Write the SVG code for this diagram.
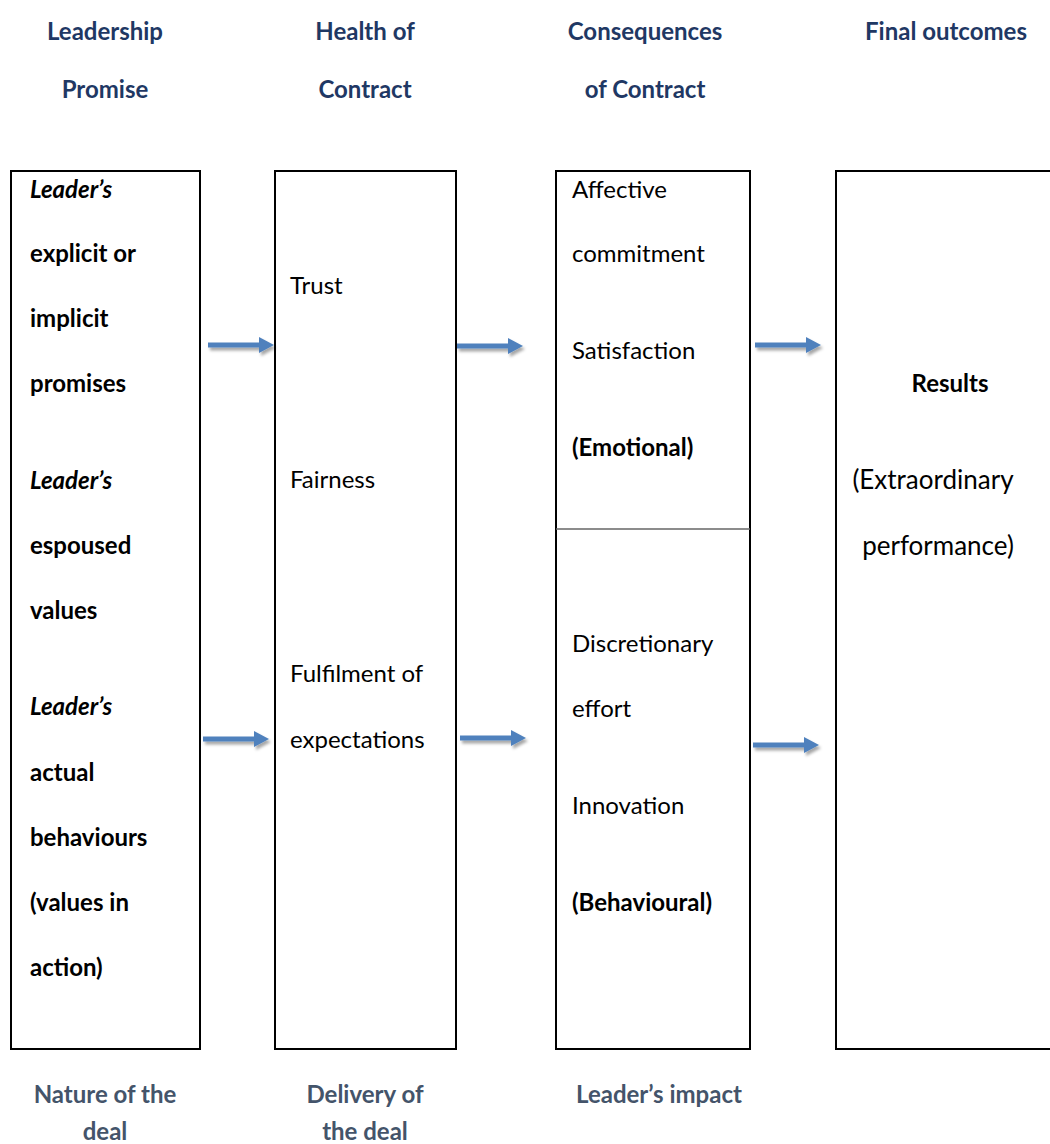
<svg xmlns="http://www.w3.org/2000/svg" width="1050" height="1144" viewBox="0 0 1050 1144">
  <style>
    text { font-family: Lato, "Noto Sans", "Liberation Sans", sans-serif; font-size: 24px; fill: #000; }
    .head { font-weight: bold; fill: #1F3864; text-anchor: middle; }
    .foot { font-weight: bold; fill: #44546A; text-anchor: middle; }
    .b { font-weight: bold; }
    .bi { font-weight: bold; font-style: italic; }
    .mid { text-anchor: middle; }
    .big { font-size: 26px; }
    .box { fill: #fff; stroke: #000; stroke-width: 2; }
    .divider { stroke: #666; stroke-width: 1.5; }
    .arrow { fill: #4F81BD; filter: url(#shadow); }
  </style>
  <defs>
    <filter id="shadow" x="-20%" y="-80%" width="150%" height="260%">
      <feDropShadow dx="2" dy="3" stdDeviation="1.8" flood-color="#000" flood-opacity="0.35"/>
    </filter>
    <path id="arrow-shape" d="M0,-2.5 H51 V-8 L66,0 L51,8 V2.5 H0 Z"/>
  </defs>

  <rect width="1050" height="1144" fill="#fff"/>

  <!-- column headings -->
  <g id="headings">
    <text class="head" x="105" y="40">Leadership</text>
    <text class="head" x="105" y="98">Promise</text>
    <text class="head" x="365" y="40">Health of</text>
    <text class="head" x="365" y="98">Contract</text>
    <text class="head" x="645" y="40">Consequences</text>
    <text class="head" x="645" y="98">of Contract</text>
    <text class="head" x="946" y="40">Final outcomes</text>
  </g>

  <!-- column 1: the leadership promise -->
  <g id="node-promise">
    <rect class="box" x="11" y="171" width="189" height="878"/>
    <text class="bi" x="30" y="198">Leader’s</text>
    <text class="b" x="30" y="262">explicit or</text>
    <text class="b" x="30" y="327">implicit</text>
    <text class="b" x="30" y="392">promises</text>
    <text class="bi" x="30" y="489">Leader’s</text>
    <text class="b" x="30" y="554">espoused</text>
    <text class="b" x="30" y="619">values</text>
    <text class="bi" x="30" y="715">Leader’s</text>
    <text class="b" x="30" y="781">actual</text>
    <text class="b" x="30" y="846">behaviours</text>
    <text class="b" x="30" y="911">(values in</text>
    <text class="b" x="30" y="976">action)</text>
  </g>

  <!-- column 2: health of the contract -->
  <g id="node-health">
    <rect class="box" x="275" y="171" width="181" height="878"/>
    <text x="290" y="294">Trust</text>
    <text x="290" y="488">Fairness</text>
    <text x="290" y="682">Fulfilment of</text>
    <text x="290" y="748">expectations</text>
  </g>

  <!-- column 3: consequences, split into emotional and behavioural -->
  <g id="node-consequences">
    <rect class="box" x="556" y="171" width="194" height="878"/>
    <line class="divider" x1="556" y1="529" x2="750" y2="529"/>
    <text x="572" y="198">Affective</text>
    <text x="572" y="262">commitment</text>
    <text x="572" y="359">Satisfaction</text>
    <text class="b" x="572" y="456">(Emotional)</text>
    <text x="572" y="652">Discretionary</text>
    <text x="572" y="717">effort</text>
    <text x="572" y="814">Innovation</text>
    <text class="b" x="572" y="911">(Behavioural)</text>
  </g>

  <!-- column 4: final outcomes -->
  <g id="node-outcomes">
    <rect class="box" x="836" y="171" width="216" height="878"/>
    <text class="b mid" x="950" y="392">Results</text>
    <text class="mid big" x="933" y="489">(Extraordinary</text>
    <text class="mid big" x="938" y="555">performance)</text>
  </g>

  <!-- connectors -->
  <g id="connectors">
    <use href="#arrow-shape" class="arrow" transform="translate(208,345)"/>
    <use href="#arrow-shape" class="arrow" transform="translate(457,346)"/>
    <use href="#arrow-shape" class="arrow" transform="translate(755,345)"/>
    <use href="#arrow-shape" class="arrow" transform="translate(203,739)"/>
    <use href="#arrow-shape" class="arrow" transform="translate(460,738)"/>
    <use href="#arrow-shape" class="arrow" transform="translate(753,745)"/>
  </g>

  <!-- column footers -->
  <g id="footers">
    <text class="foot" x="105" y="1103">Nature of the</text>
    <text class="foot" x="105" y="1140">deal</text>
    <text class="foot" x="365" y="1103">Delivery of</text>
    <text class="foot" x="365" y="1140">the deal</text>
    <text class="foot" x="659" y="1103">Leader’s impact</text>
  </g>
</svg>
